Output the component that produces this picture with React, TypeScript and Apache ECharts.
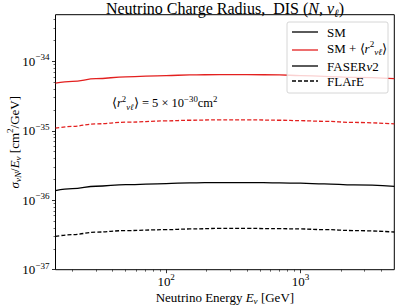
import React, { useEffect, useRef } from "react";
import * as echarts from "echarts";

// Neutrino energy grid (GeV)
const energies = [15, 20, 30, 50, 100, 150, 250, 400, 700, 1000, 1500, 2500, 5000];
// sigma/E [cm^2/GeV]
const faserCR = [4.85e-35, 5.15e-35, 5.63e-35, 6.0e-35, 6.25e-35, 6.38e-35, 6.46e-35, 6.45e-35, 6.38e-35, 6.25e-35, 6.1e-35, 5.9e-35, 5.66e-35];
const flareCR = [1.09e-35, 1.16e-35, 1.26e-35, 1.33e-35, 1.39e-35, 1.42e-35, 1.44e-35, 1.44e-35, 1.42e-35, 1.4e-35, 1.37e-35, 1.32e-35, 1.26e-35];
const faserSM = [1.38e-36, 1.47e-36, 1.59e-36, 1.68e-36, 1.74e-36, 1.78e-36, 1.8e-36, 1.8e-36, 1.78e-36, 1.76e-36, 1.72e-36, 1.66e-36, 1.58e-36];
const flareSM = [3.02e-37, 3.2e-37, 3.48e-37, 3.66e-37, 3.77e-37, 3.86e-37, 3.93e-37, 3.93e-37, 3.9e-37, 3.86e-37, 3.78e-37, 3.66e-37, 3.49e-37];

const xMin = 15;
const xMax = 5000;
const yMin = 1e-37;
const yMax = 4.7e-34;
const xMajorTicks = [100, 1000];
const xMinorTicks = [20, 30, 40, 50, 60, 70, 80, 90, 200, 300, 400, 500, 600, 700, 800, 900, 2000, 3000, 4000];
const yMajorTicks = [1e-37, 1e-36, 1e-35, 1e-34];
const yMinorTicks = [
  2e-37, 3e-37, 4e-37, 5e-37, 6e-37, 7e-37, 8e-37, 9e-37,
  2e-36, 3e-36, 4e-36, 5e-36, 6e-36, 7e-36, 8e-36, 9e-36,
  2e-35, 3e-35, 4e-35, 5e-35, 6e-35, 7e-35, 8e-35, 9e-35,
  2e-34, 3e-34, 4e-34,
];

const FONT = "Liberation Serif";
const RED = "#e3201f";
const RED_TEXT = "rgba(227,32,31,0.72)";
const FS = 13;

function rich(size: number, color: string) {
  const base = { fontFamily: FONT, fontSize: size, color, lineHeight: size * 1.3, verticalAlign: "middle" as const };
  const sup = { fontFamily: FONT, fontSize: size * 0.7, color, lineHeight: size * 0.5, verticalAlign: "top" as const };
  const sub = { fontFamily: FONT, fontSize: size * 0.7, color, lineHeight: size * 0.8, verticalAlign: "bottom" as const };
  return {
    b: base,
    i: { ...base, fontStyle: "italic" },
    sup,
    supi: { ...sup, fontStyle: "italic" },
    sub,
    subi: { ...sub, fontStyle: "italic" },
  };
}

const lg = (v: number) => Math.log10(v);

function pairs(ys: number[]) {
  return energies.map((e, k) => [e, lg(ys[k])]);
}

function expText(e: number) {
  const s = e < 0 ? "\u2212" + String(-e) : String(e);
  return "{b|10}{sup|" + s + "}";
}

export default function App() {
  const ref = useRef<HTMLDivElement>(null);
  useEffect(() => {
    document.body.style.margin = "0";
    if (!ref.current) return;
    const chart = echarts.init(ref.current, undefined, { renderer: "svg" });
    const lw = 1.3;
    const mkLine = (name: string, ys: number[], color: string, dashed: boolean) => ({
      type: "line",
      name,
      data: pairs(ys),
      showSymbol: false,
      symbol: "none",
      smooth: 0.4,
      smoothMonotone: "x",
      lineStyle: { color, width: lw, type: dashed ? [4, 2] : "solid" },
      z: 3,
    });

    const legendX0 = 292;
    const legendX1 = 318;
    const legendTX = 327;
    const rows = [32, 48, 66, 81];

    chart.setOption({
      animation: false,
      backgroundColor: "#fff",
      grid: {
        left: 55.5,
        right: 12.7,
        top: 14.7,
        bottom: 35.3,
        show: true,
        borderColor: "#000",
        borderWidth: 1,
        backgroundColor: "transparent",
        outerBoundsMode: "none",
        containLabel: false,
      },
      xAxis: [
        {
          type: "log",
          logBase: 10,
          min: xMin,
          max: xMax,
          axisLine: { show: false },
          splitLine: { show: false },
          axisTick: { show: true, length: 3.5, customValues: xMajorTicks, lineStyle: { color: "#000", width: 0.8 } },
          axisLabel: {
            customValues: xMajorTicks,
            margin: 3,
            formatter: (v: number) => expText(Math.round(Math.log10(v))),
            rich: rich(FS, "#000"),
          },
          name: "{b|Neutrino Energy }{i|E}{subi|\u03bd}{b| [GeV]}",
          nameLocation: "middle",
          nameGap: 19,
          nameMoveOverlap: false,
          nameTextStyle: { rich: rich(FS, "#000") },
        },
        {
          type: "log",
          logBase: 10,
          min: xMin,
          max: xMax,
          axisLine: { show: false },
          splitLine: { show: false },
          axisLabel: { show: false },
          axisTick: { show: true, length: 2, customValues: xMinorTicks, lineStyle: { color: "#000", width: 0.6 } },
          position: "bottom",
        },
      ],
      yAxis: [
        {
          type: "value",
          min: lg(yMin),
          max: lg(yMax),
          axisLine: { show: false },
          splitLine: { show: false },
          axisTick: { show: true, length: 3.5, customValues: yMajorTicks.map(lg), lineStyle: { color: "#000", width: 0.8 } },
          axisLabel: {
            customValues: yMajorTicks.map(lg),
            margin: 6,
            formatter: (v: number) => expText(Math.round(v)),
            rich: rich(FS, "#000"),
          },
          name: "{i|\u03c3}{subi|\u03bdN}{b|/}{i|E}{subi|\u03bd}{b| [cm}{sup|2}{b|/GeV]}",
          nameLocation: "middle",
          nameGap: 33,
          nameMoveOverlap: false,
          nameTextStyle: { rich: rich(FS, "#000") },
        },
        {
          type: "value",
          min: lg(yMin),
          max: lg(yMax),
          position: "left",
          axisLine: { show: false },
          splitLine: { show: false },
          axisLabel: { show: false },
          axisTick: { show: true, length: 2, customValues: yMinorTicks.map(lg), lineStyle: { color: "#000", width: 0.6 } },
        },
      ],
      series: [
        mkLine("FASER SM", faserSM, "#000", false),
        mkLine("FASER SM+CR", faserCR, RED, false),
        mkLine("FLArE SM", flareSM, "#000", true),
        mkLine("FLArE SM+CR", flareCR, RED, true),
      ],
      graphic: [
        {
          type: "text",
          x: 225,
          y: 8,
          z: 100,
          style: {
            text: "{b|Neutrino Charge Radius,  DIS (}{i|N}{b|, }{i|\u03bd}{subi|\u2113}{b|)}",
            rich: rich(16, "#000"),
            align: "center",
            verticalAlign: "middle",
          },
        },
        {
          type: "text",
          x: 112,
          y: 103,
          z: 100,
          style: {
            text: "{b|\u27e8}{i|r}{sup|2}{subi|\u03bd\u2113}{b|\u27e9 = 5 \u00d7 10}{sup|\u221230}{b|cm}{sup|2}",
            rich: rich(12.5, RED_TEXT),
            align: "left",
            verticalAlign: "middle",
          },
        },
        {
          type: "rect",
          z: 100,
          shape: { x: 287, y: 22, width: 101, height: 71, r: 2 },
          style: { fill: "rgba(255,255,255,0.8)", stroke: "#cccccc", lineWidth: 0.8 },
        },
        {
          type: "line",
          z: 101,
          shape: { x1: legendX0, y1: rows[0], x2: legendX1, y2: rows[0] },
          style: { stroke: "#000", lineWidth: lw },
        },
        {
          type: "line",
          z: 101,
          shape: { x1: legendX0, y1: rows[1] + 2, x2: legendX1, y2: rows[1] + 2 },
          style: { stroke: RED, lineWidth: lw },
        },
        {
          type: "line",
          z: 101,
          shape: { x1: legendX0, y1: rows[2], x2: legendX1, y2: rows[2] },
          style: { stroke: "#000", lineWidth: lw },
        },
        {
          type: "line",
          z: 101,
          shape: { x1: legendX0, y1: rows[3], x2: legendX1, y2: rows[3] },
          style: { stroke: "#000", lineWidth: lw, lineDash: [4, 2] },
        },
        {
          type: "text",
          x: legendTX,
          y: rows[0],
          z: 101,
          style: { text: "{b|SM}", rich: rich(FS, "#000"), align: "left", verticalAlign: "middle" },
        },
        {
          type: "text",
          x: legendTX,
          y: rows[1],
          z: 101,
          style: {
            text: "{b|SM + \u27e8}{i|r}{sup|2}{subi|\u03bd\u2113}{b|\u27e9}",
            rich: rich(FS, "#000"),
            align: "left",
            verticalAlign: "middle",
          },
        },
        {
          type: "text",
          x: legendTX,
          y: rows[2],
          z: 101,
          style: { text: "{b|FASER}{i|\u03bd}{b|2}", rich: rich(FS, "#000"), align: "left", verticalAlign: "middle" },
        },
        {
          type: "text",
          x: legendTX,
          y: rows[3],
          z: 101,
          style: { text: "{b|FLArE}", rich: rich(FS, "#000"), align: "left", verticalAlign: "middle" },
        },
      ],
    });
    return () => chart.dispose();
  }, []);
  return <div ref={ref} style={{ width: 407, height: 305 }} />;
}
